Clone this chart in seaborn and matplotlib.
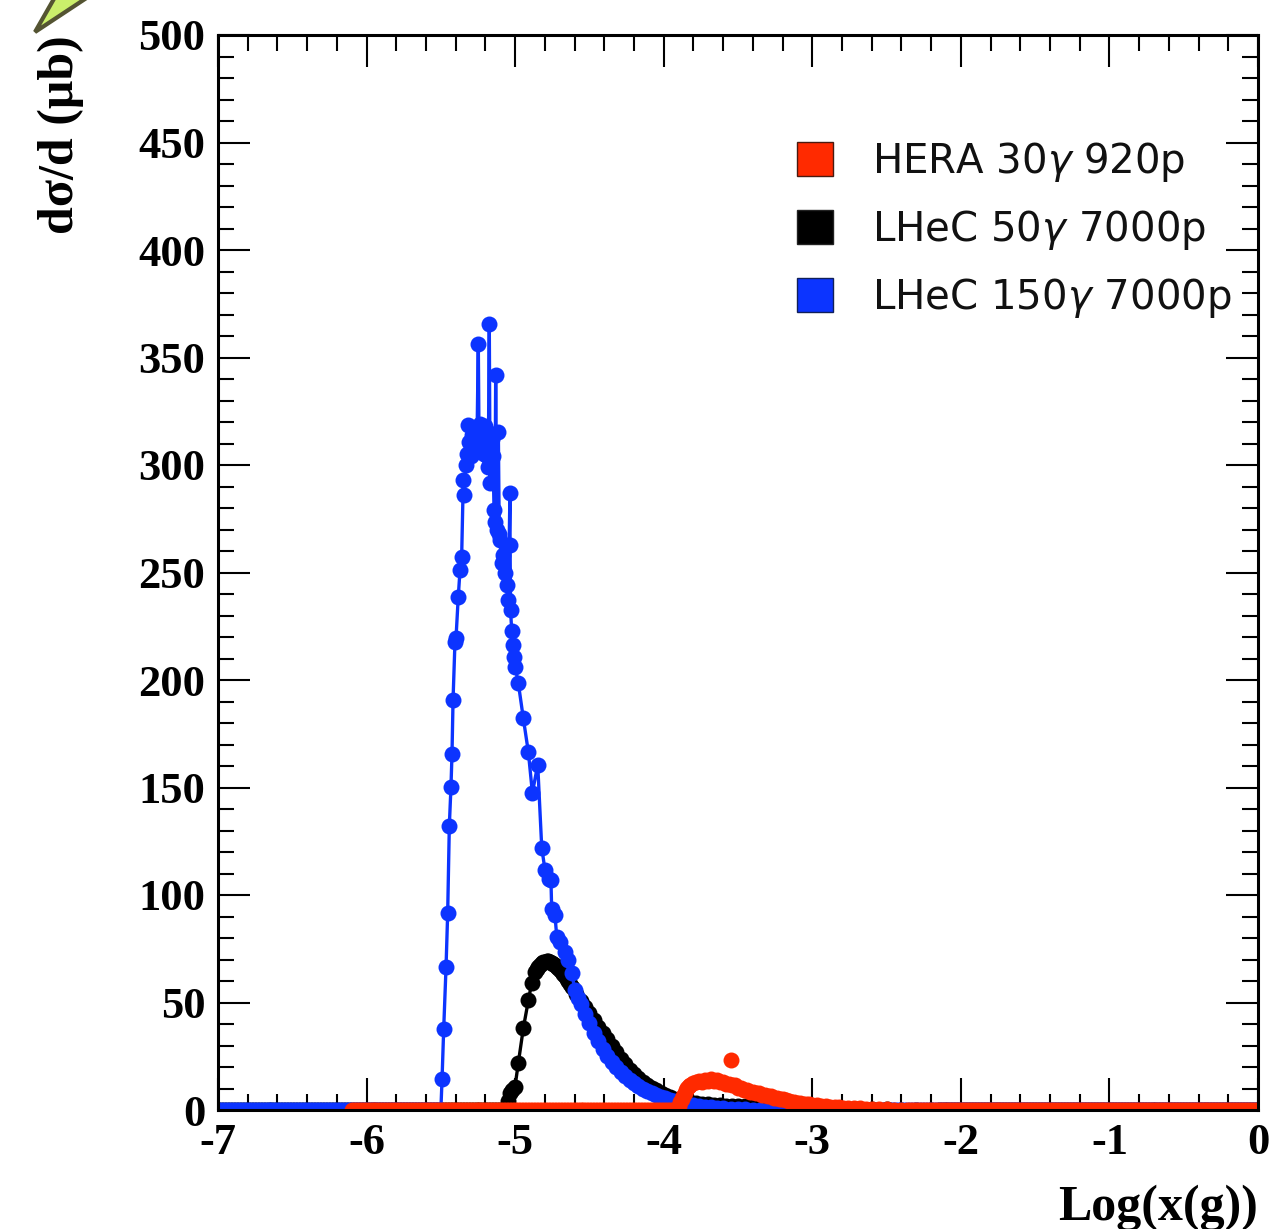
import numpy as np
import pandas as pd
import matplotlib
matplotlib.use("Agg")
import matplotlib.pyplot as plt
from matplotlib.patches import Patch, Polygon
from matplotlib.ticker import MultipleLocator
import seaborn as sns

# ---------------------------------------------------------------------------
# Gluon momentum fraction spectra: log10 x(g) versus dsigma/d (micro-barn)
# ---------------------------------------------------------------------------
series_labels = ["HERA 30$\\gamma$ 920p", "LHeC 50$\\gamma$ 7000p", "LHeC 150$\\gamma$ 7000p"]

# LHeC 150 GeV photon on 7000 GeV proton (non-empty bins, graph order)
lhec150_x = [
    -5.492, -5.481, -5.465, -5.454, -5.443, -5.432, -5.425, -5.418, -5.405, -5.398,
    -5.383, -5.371, -5.360, -5.349, -5.345, -5.331, -5.322, -5.315, -5.309, -5.297,
    -5.290, -5.284, -5.274, -5.263, -5.256, -5.248, -5.243, -5.236, -5.228, -5.220,
    -5.212, -5.203, -5.195, -5.188, -5.181, -5.174, -5.169, -5.162, -5.155, -5.149,
    -5.142, -5.136, -5.131, -5.125, -5.113, -5.107, -5.102, -5.090, -5.082, -5.068,
    -5.057, -5.046, -5.035, -5.034, -5.031, -5.023, -5.012, -5.005, -5.000, -4.979,
    -4.945, -4.911, -4.884, -4.848, -4.821, -4.799, -4.772, -4.759, -4.754, -4.732,
    -4.720, -4.698, -4.664, -4.642, -4.619, -4.597, -4.575, -4.56, -4.53, -4.50,
    -4.47, -4.44, -4.41, -4.38, -4.35, -4.32, -4.29, -4.26, -4.23, -4.20,
    -4.17, -4.14, -4.11, -4.08, -4.05, -4.02, -3.99, -3.96, -3.93, -3.90,
    -3.87, -3.84, -3.80, -3.76, -3.72, -3.68, -3.64, -3.60, -3.55, -3.50,
    -3.45, -3.40, -3.35]
lhec150_y = [
    14.3, 37.5, 66.7, 91.8, 132.2, 150.2, 165.6, 190.7, 217.7, 219.5,
    238.5, 251.2, 257.3, 293.0, 286.0, 300.2, 305.0, 318.6, 310.8, 304.0,
    314.0, 308.0, 312.0, 306.0, 315.0, 356.5, 311.0, 319.0, 309.0, 314.0,
    305.0, 318.0, 310.0, 304.0, 299.2, 365.6, 291.5, 307.0, 312.0, 304.0,
    279.0, 273.6, 341.9, 270.0, 315.5, 268.0, 265.0, 254.3, 258.0, 250.0,
    244.2, 237.2, 287.1, 262.8, 232.6, 222.9, 216.3, 210.8, 206.2, 198.7,
    182.2, 166.4, 147.6, 160.5, 122.0, 111.6, 107.3, 107.0, 93.3, 90.7,
    80.6, 78.3, 73.6, 69.8, 63.6, 55.8, 52.0, 49.5, 44.8, 40.3,
    36.0, 32.0, 28.5, 25.3, 22.5, 20.0, 17.8, 15.8, 14.0, 12.4,
    11.0, 9.8, 8.7, 7.8, 6.9, 6.1, 5.4, 4.8, 4.2, 3.7,
    3.2, 2.8, 2.3, 1.9, 1.5, 1.2, 0.9, 0.7, 0.5, 0.35,
    0.25, 0.15, 0.1]

# LHeC 50 GeV photon on 7000 GeV proton
lhec50_x = [
    -5.045, -5.035, -5.021, -5.001, -4.979, -4.945, -4.911, -4.889, -4.866, -4.855,
    -4.844, -4.832, -4.821, -4.810, -4.799, -4.788, -4.777, -4.765, -4.754, -4.742,
    -4.731, -4.720, -4.709, -4.698, -4.687, -4.675, -4.664, -4.653, -4.642, -4.631,
    -4.62, -4.59, -4.56, -4.53, -4.50, -4.47, -4.44, -4.41, -4.38, -4.35,
    -4.32, -4.29, -4.26, -4.23, -4.20, -4.17, -4.14, -4.11, -4.08, -4.05,
    -4.02, -3.99, -3.96, -3.93, -3.90, -3.86, -3.82, -3.78, -3.74, -3.70,
    -3.66, -3.62, -3.58, -3.54, -3.50, -3.45, -3.40, -3.35, -3.30, -3.25,
    -3.20, -3.15, -3.10, -3.05, -3.00, -2.90, -2.80, -2.70, -2.60, -2.50,
    -2.40, -2.30, -2.20]
lhec50_y = [
    4.0, 7.8, 9.5, 10.8, 21.7, 38.0, 51.0, 58.9, 64.0, 65.5,
    66.7, 67.6, 68.2, 68.7, 69.0, 69.2, 69.1, 68.9, 68.5, 67.8,
    67.3, 66.7, 65.9, 65.1, 64.3, 63.2, 62.2, 61.0, 59.8, 58.6,
    57.3, 54.0, 50.5, 47.8, 44.9, 41.8, 38.7, 35.7, 32.8, 29.7,
    26.8, 23.9, 21.2, 18.8, 16.7, 14.8, 13.0, 11.6, 10.3, 9.1,
    7.9, 7.0, 6.2, 5.3, 4.6, 4.0, 3.5, 3.1, 2.8, 2.6,
    2.4, 2.2, 2.0, 1.9, 1.8, 1.7, 1.6, 1.5, 1.4, 1.3,
    1.2, 1.1, 1.0, 0.9, 0.8, 0.6, 0.5, 0.4, 0.3, 0.3,
    0.2, 0.2, 0.1]

# HERA 30 GeV photon on 920 GeV proton
hera_x = [
    -3.913, -3.90, -3.89, -3.88, -3.87, -3.86, -3.85, -3.84, -3.83, -3.82,
    -3.80, -3.78, -3.76, -3.74, -3.72, -3.70, -3.68, -3.66, -3.64, -3.62,
    -3.60, -3.58, -3.56, -3.549, -3.54, -3.52, -3.50, -3.48, -3.46, -3.44,
    -3.42, -3.40, -3.38, -3.36, -3.34, -3.32, -3.30, -3.28, -3.26, -3.24,
    -3.22, -3.20, -3.18, -3.16, -3.14, -3.12, -3.10, -3.08, -3.06, -3.04,
    -3.02, -3.00, -2.97, -2.94, -2.91, -2.88, -2.85, -2.82, -2.79, -2.76,
    -2.72, -2.68, -2.64, -2.60, -2.55, -2.50, -2.45, -2.40]
hera_y = [
    0.6, 2.0, 3.5, 5.0, 6.5, 8.0, 9.2, 10.2, 11.0, 11.8,
    12.5, 13.0, 13.6, 13.2, 14.0, 13.6, 14.3, 13.5, 13.9, 12.8,
    13.1, 12.2, 12.3, 23.3, 11.4, 11.4, 10.3, 10.4, 9.4, 9.5,
    8.6, 8.6, 7.8, 7.9, 7.1, 7.0, 6.3, 6.3, 5.6, 5.6,
    5.0, 4.9, 4.5, 4.3, 3.9, 3.8, 3.4, 3.3, 3.0, 2.9,
    2.6, 2.5, 2.2, 2.0, 1.8, 1.6, 1.4, 1.2, 1.1, 1.0,
    0.9, 0.8, 0.6, 0.5, 0.4, 0.3, 0.2, 0.1]

# ranges in log x(g) where a sample has empty bins (zero cross section)
lhec150_empty = [(-7.00, -5.50), (-3.30, 0.00)]
lhec50_empty = [(-7.00, -5.06), (-2.15, 0.00)]
hera_empty = [(-6.10, -3.93), (-2.36, 0.00)]

colors = {"hera": "#FF2A00", "lhec50": "#000000", "lhec150": "#0C34FF"}


def empty_bins(start, stop, width=0.02):
    xs = np.round(np.arange(start, stop + width / 2, width), 3)
    return list(xs), [0.0] * len(xs)


def build(empty, xs, ys):
    (a0, a1), (b0, b1) = empty
    lx, ly = empty_bins(a0, a1)
    rx, ry = empty_bins(b0, b1)
    return pd.DataFrame({"logx": lx + list(xs) + rx, "dsig": ly + list(ys) + ry})


df150 = build(lhec150_empty, lhec150_x, lhec150_y)
df50 = build(lhec50_empty, lhec50_x, lhec50_y)
dfhera = build(hera_empty, hera_x, hera_y)

# ---------------------------------------------------------------------------
sns.set_theme(style="ticks")
plt.rcParams.update({
    "axes.unicode_minus": False,
    "text.color": "black",
    "axes.labelcolor": "black",
    "xtick.color": "black",
    "ytick.color": "black",
    "axes.edgecolor": "black",
})
plt.rcParams["font.family"] = ["Liberation Serif", "DejaVu Serif"]

W, H = 1272, 1229
fig = plt.figure(figsize=(W / 100, H / 100), dpi=100)
ax = fig.add_axes([218 / W, 1 - 1110 / H, 1040 / W, 1075 / H])

mk = dict(marker="o", markersize=11.5, markeredgewidth=0)
sns.lineplot(data=df50, x="logx", y="dsig", sort=False, estimator=None,
             color=colors["lhec50"], lw=2.4, ax=ax, zorder=2, **mk)
sns.lineplot(data=df150, x="logx", y="dsig", sort=False, estimator=None,
             color=colors["lhec150"], lw=2.4, ax=ax, zorder=3, **mk)
sns.scatterplot(data=dfhera, x="logx", y="dsig", color=colors["hera"],
                s=132, linewidth=0, ax=ax, zorder=4)

ax.set_xlim(-7, 0)
ax.set_ylim(0, 500)
ax.xaxis.set_major_locator(MultipleLocator(1))
ax.xaxis.set_minor_locator(MultipleLocator(0.2))
ax.yaxis.set_major_locator(MultipleLocator(50))
ax.yaxis.set_minor_locator(MultipleLocator(10))
ax.tick_params(which="both", direction="in", top=True, right=True,
               width=1.5, color="black")
ax.tick_params(which="major", length=23, pad=9)
ax.tick_params(which="minor", length=11.5)
for lab in ax.get_xticklabels() + ax.get_yticklabels():
    lab.set_fontsize(32)
    lab.set_fontweight("bold")
    lab.set_color("black")
for sp in ax.spines.values():
    sp.set_linewidth(2.2)
    sp.set_color("black")
    sp.set_zorder(5)

ax.set_xlabel("Log(x(g))", loc="right", fontsize=36, fontweight="bold",
              labelpad=16, color="black")
ax.set_ylabel("d\u03c3/d (\u03bcb)", loc="top", fontsize=36, fontweight="bold",
              labelpad=39, color="black")

handles = [Patch(facecolor=colors["hera"], edgecolor="#4a1a10", lw=1.0),
           Patch(facecolor=colors["lhec50"], edgecolor="#222222", lw=1.0),
           Patch(facecolor=colors["lhec150"], edgecolor="#10205a", lw=1.0)]
leg = ax.legend(handles, series_labels, loc="upper left",
                bbox_to_anchor=((797 - 218) / 1040, (1110 - 140) / 1075),
                frameon=False, borderpad=0, borderaxespad=0,
                handlelength=0.89, handleheight=0.93, handletextpad=0.97,
                labelspacing=0.59,
                prop={"family": "DejaVu Sans", "size": 29})
for t in leg.get_texts():
    t.set_color("#111111")

# corner arrow ornament
tri = Polygon([(35 / W, 1 - 32 / H), (55 / W, 1 + 3 / H), (88 / W, 1 + 3 / H)],
              closed=True, transform=fig.transFigure, facecolor="#CBEF6B",
              edgecolor="#545432", lw=3, clip_on=False)
fig.add_artist(tri)

fig.savefig("out.png", dpi=100)
